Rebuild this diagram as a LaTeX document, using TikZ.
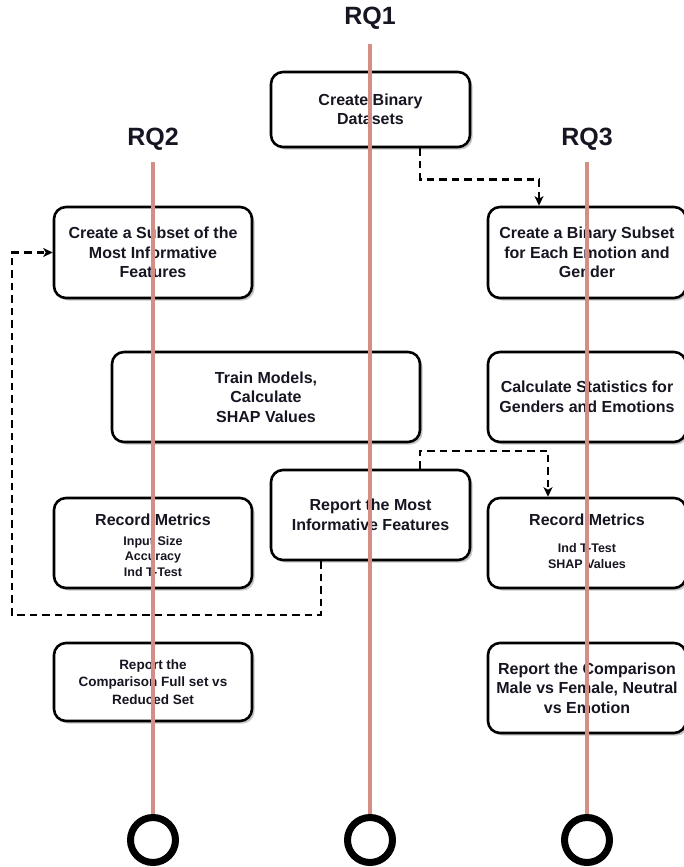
\documentclass[tikz,border=0pt]{standalone}
\usepackage{fontspec}
\setmainfont{Liberation Sans}
\usetikzlibrary{arrows.meta,shadows}
\definecolor{rqline}{RGB}{212,142,134}
\definecolor{txt}{RGB}{22,22,34}
\begin{document}
\begin{tikzpicture}[x=1pt,y=-1pt,
  box/.style={draw=black, line width=2.6pt, rounded corners=12pt, fill=white,
    drop shadow={shadow xshift=2.5pt,shadow yshift=-2.5pt,opacity=0.22,fill=black},
    align=center, text=txt, inner sep=0pt,
    font=\fontsize{16}{19.5}\selectfont\bfseries},
  smalltxt/.style={align=center, text=txt, inner sep=0pt, font=\fontsize{12.5}{15.5}\selectfont\bfseries},
  headtxt/.style={align=center, text=txt, inner sep=0pt, font=\fontsize{16}{19.5}\selectfont\bfseries},
  rqlabel/.style={text=txt, inner sep=0pt, font=\fontsize{25}{30}\selectfont\bfseries},
  rq/.style={draw=rqline, line width=4.5pt},
  endc/.style={circle, draw=black, line width=7pt, minimum size=45pt, inner sep=0pt},
  dconn/.style={draw=black, line width=2.4pt, dash pattern=on 7.5pt off 5pt},
  arr/.style={-{Stealth[length=9.5pt,width=9pt,inset=2.5pt]}}
]
\useasboundingbox (0,0) rectangle (684,867);

% labels
\node[rqlabel] (rq1) at (370,18) {RQ1};
\node[rqlabel] (rq2) at (153,139) {RQ2};
\node[rqlabel] (rq3) at (587,139) {RQ3};

% boxes
\node[box, minimum width=199pt, minimum height=75pt] (b1) at (370.5,109.5) {Create Binary\\Datasets};
\node[box, minimum width=198pt, minimum height=91pt] (b3) at (153,252.5) {Create a Subset of the\\Most Informative\\Features};
\node[box, minimum width=198pt, minimum height=91pt] (b2) at (587,252.5) {Create a Binary Subset\\for Each Emotion and\\Gender};
\node[box, minimum width=308pt, minimum height=90pt] (b4) at (266,397) {Train Models,\\Calculate\\SHAP Values};
\node[box, minimum width=198pt, minimum height=90pt] (b5) at (587,397) {Calculate Statistics for\\Genders and Emotions};
\node[box, minimum width=199pt, minimum height=90pt] (b6) at (370.5,515) {Report the Most\\Informative Features};
\node[box, minimum width=198pt, minimum height=90pt] (b7) at (153,543) {};
\node[box, minimum width=198pt, minimum height=90pt] (b8) at (587,543) {};
\node[box, minimum width=198pt, minimum height=78pt, font=\fontsize{13.5}{17.5}\selectfont\bfseries] (b9) at (153,682) {Report the\\Comparison Full set vs\\Reduced Set};
\node[box, minimum width=198pt, minimum height=90pt] (b10) at (587,688) {Report the Comparison\\Male vs Female, Neutral\\vs Emotion};

% texts of the record boxes
\node[headtxt] (h7) at (153,520) {Record Metrics};
\node[smalltxt] (s7) at (153,556.5) {Input Size\\Accuracy\\Ind T-Test};
\node[headtxt] (h8) at (587,520) {Record Metrics};
\node[smalltxt] (s8) at (587,556) {Ind T-Test\\SHAP Values};

% end circles
\node[endc] (e1) at (370,840) {};
\node[endc] (e2) at (153,840) {};
\node[endc] (e3) at (587,840) {};

% lifelines
\coordinate (t1) at (370,44);
\coordinate (t2) at (153,162);
\coordinate (t3) at (587,162);
\draw[rq] (t1) -- (e1.north);
\draw[rq] (t2) -- (e2.north);
\draw[rq] (t3) -- (e3.north);

% connectors
\draw[dconn, arr] ([xshift=49.5]b1.south) -- ++(0,31) -| ([xshift=-48]b2.north);
\draw[dconn, arr] ([xshift=49.5]b6.north) -- ++(0,-18) -| ([xshift=-39]b8.north);
\coordinate (lb) at (12,615);
\draw[dconn, arr] ([xshift=-49.5]b6.south) |- (lb) |- (b3.west);
\end{tikzpicture}
\end{document}
